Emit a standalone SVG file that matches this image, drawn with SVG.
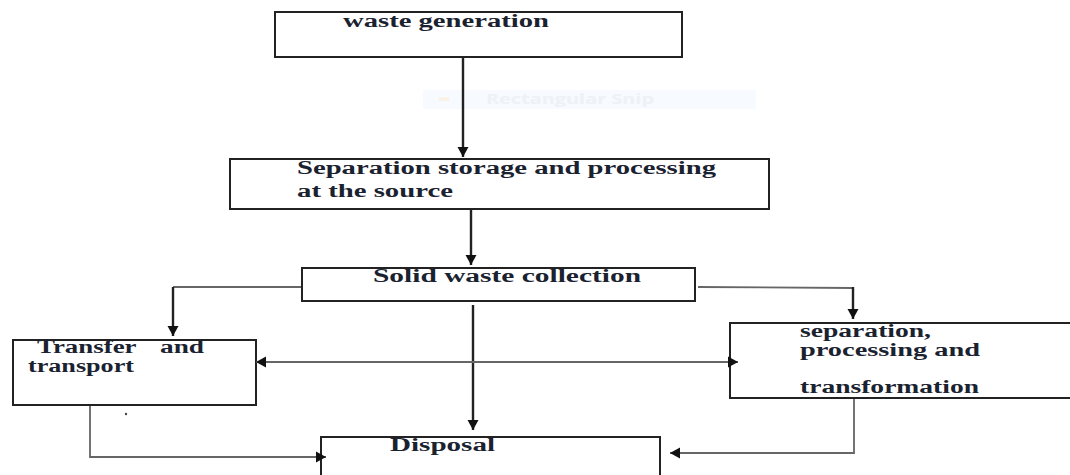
<svg xmlns="http://www.w3.org/2000/svg" width="1070" height="475" viewBox="0 0 1070 475">
<defs>
<marker id="ah" markerUnits="userSpaceOnUse" markerWidth="14" markerHeight="14" viewBox="0 0 14 14" refX="12" refY="7" orient="auto-start-reverse">
<path d="M2,1.5 L12,7 L2,12.5 Z" fill="#111"/>
</marker>
<style>
.box{fill:#fff;stroke:#222;stroke-width:2}
.t{font-family:'Liberation Serif','DejaVu Serif',serif;font-weight:bold;font-size:18.5px;fill:#1a2230}
.c{fill:none;stroke:#222;stroke-width:2.4}
.g{fill:none;stroke:#666;stroke-width:1.8}
</style>
</defs>
<rect width="1070" height="475" fill="#fff"/>
<g id="snip">
<rect x="423" y="90" width="333" height="19" fill="#f7fafe"/>
<rect x="439" y="97" width="10" height="4" fill="#fbf1e6"/>
<text x="486" y="104" font-family="'Open Sans','Noto Sans',sans-serif" font-size="14" font-weight="bold" fill="#eef1f5" textLength="168" lengthAdjust="spacingAndGlyphs">Rectangular Snip</text>
</g>
<g id="waste-generation">
<rect class="box" x="275" y="12" width="407" height="45"/>
<text class="t" x="343" y="27" textLength="206" lengthAdjust="spacingAndGlyphs">waste generation</text>
</g>
<g id="separation-storage">
<rect class="box" x="230" y="159" width="539" height="50"/>
<text class="t" x="297" y="174" textLength="419" lengthAdjust="spacingAndGlyphs">Separation storage and processing</text>
<text class="t" x="297" y="197" textLength="156" lengthAdjust="spacingAndGlyphs">at the source</text>
</g>
<g id="solid-waste-collection">
<rect class="box" x="302" y="268" width="393" height="33"/>
<text class="t" x="373" y="282" textLength="268" lengthAdjust="spacingAndGlyphs">Solid waste collection</text>
</g>
<g id="transfer-transport">
<rect class="box" x="13" y="340" width="243" height="65"/>
<text class="t" x="37" y="353"><tspan textLength="99" lengthAdjust="spacingAndGlyphs">Transfer</tspan> <tspan x="160" textLength="44" lengthAdjust="spacingAndGlyphs">and</tspan></text>
<text class="t" x="28" y="372" textLength="106" lengthAdjust="spacingAndGlyphs">transport</text>
<circle cx="126" cy="414" r="1.2" fill="#444"/>
</g>
<g id="separation-processing">
<rect class="box" x="730" y="323" width="345" height="75"/>
<text class="t" x="800" y="337" textLength="131" lengthAdjust="spacingAndGlyphs">separation,</text>
<text class="t" x="800" y="356" textLength="180" lengthAdjust="spacingAndGlyphs">processing and</text>
<text class="t" x="800" y="393" textLength="179" lengthAdjust="spacingAndGlyphs">transformation</text>
</g>
<g id="disposal">
<rect class="box" x="321" y="437" width="339" height="50"/>
<text class="t" x="390" y="451" textLength="105" lengthAdjust="spacingAndGlyphs">Disposal</text>
</g>
<g id="connectors">
<line class="c" x1="463" y1="58" x2="463" y2="157" marker-end="url(#ah)"/>
<line class="c" x1="471" y1="210" x2="471" y2="265" marker-end="url(#ah)"/>
<polyline class="g" points="301,287 173,287"/>
<line class="c" x1="173" y1="287" x2="173" y2="336" marker-end="url(#ah)"/>
<polyline class="g" points="698,287 853,288"/>
<line class="c" x1="853" y1="287" x2="853" y2="319" marker-end="url(#ah)"/>
<line class="c" x1="473" y1="305" x2="473" y2="430" marker-end="url(#ah)"/>
<line class="g" x1="256" y1="362" x2="738" y2="362" marker-start="url(#ah)" marker-end="url(#ah)"/>
<polyline class="g" points="90,406 90,457 326,457" marker-end="url(#ah)"/>
<polyline class="g" points="854,399 854,453 670,453" marker-end="url(#ah)"/>
</g>
</svg>
